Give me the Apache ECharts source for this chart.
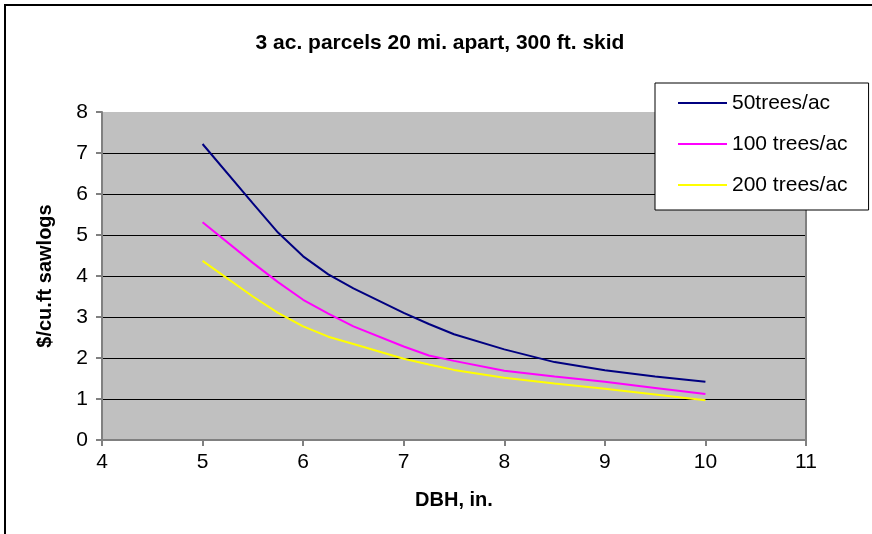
<!DOCTYPE html>
<html>
<head>
<meta charset="utf-8">
<script src="https://cdn.jsdelivr.net/npm/echarts@6/dist/echarts.min.js"></script>
<style>
  html, body { margin: 0; padding: 0; background: #fff; }
  #chart { width: 872px; height: 534px; }
</style>
</head>
<body>
<div id="chart"></div>
<script>
// region data
const dbh = [5, 5.5, 5.75, 6, 6.25, 6.5, 7, 7.25, 7.5, 8, 8.5, 9, 9.5, 10]
const trees50 = [7.22, 5.77, 5.06, 4.48, 4.04, 3.7, 3.1, 2.83, 2.58, 2.21, 1.9, 1.7, 1.55, 1.42]
const trees100 = [5.31, 4.32, 3.85, 3.42, 3.08, 2.77, 2.28, 2.06, 1.93, 1.69, 1.55, 1.42, 1.27, 1.12]
const trees200 = [4.37, 3.5, 3.1, 2.77, 2.52, 2.34, 1.98, 1.84, 1.71, 1.52, 1.38, 1.25, 1.11, 0.97]
const seriesNames = ['50trees/ac', '100 trees/ac', '200 trees/ac']
const seriesColors = ['#000080', '#ff00ff', '#ffff00']
// endregion

const font = 'Liberation Sans, Arial, sans-serif'
const toPairs = (values) => values.map((v, i) => [dbh[i], v])

const chart = echarts.init(document.getElementById('chart'), null, { renderer: 'canvas' })

const makeSeries = (name, values, color) => ({
  name: name,
  type: 'line',
  data: toPairs(values),
  symbol: 'none',
  showSymbol: false,
  smooth: false,
  lineStyle: { color: color, width: 2 },
  itemStyle: { color: color },
  animation: false,
})

chart.setOption({
  animation: false,
  textStyle: { fontFamily: font },
  title: {
    text: '3 ac. parcels 20 mi. apart, 300 ft. skid',
    left: 435,
    top: 28,
    textAlign: 'center',
    textStyle: { fontFamily: font, fontSize: 21, fontWeight: 'bold', color: '#000' },
  },
  legend: {
    orient: 'vertical',
    left: 655,
    top: 83,
    data: seriesNames,
    icon: 'rect',
    itemWidth: 49,
    itemHeight: 2,
    itemGap: 17,
    padding: [8, 21, 13, 23],
    backgroundColor: '#fff',
    borderColor: '#000',
    borderWidth: 1,
    borderRadius: 0,
    textStyle: { fontFamily: font, fontSize: 21, color: '#000', lineHeight: 24 },
  },
  grid: {
    left: 102,
    top: 112,
    width: 704,
    height: 328,
    show: true,
    backgroundColor: '#c0c0c0',
    borderWidth: 0,
  },
  xAxis: {
    type: 'value',
    min: 4,
    max: 11,
    interval: 1,
    name: 'DBH, in.',
    nameLocation: 'middle',
    nameGap: 50,
    nameTextStyle: { fontFamily: font, fontSize: 20, fontWeight: 'bold', color: '#000' },
    axisLine: { show: true, lineStyle: { color: '#808080', width: 2 } },
    axisTick: { show: true, inside: false, length: 6, lineStyle: { color: '#808080', width: 2 } },
    axisLabel: { fontFamily: font, fontSize: 21, color: '#000', margin: 12 },
    splitLine: { show: false },
  },
  yAxis: [
    {
      type: 'value',
      min: 0,
      max: 8,
      interval: 1,
      name: '$/cu.ft sawlogs',
      nameLocation: 'middle',
      nameGap: 47,
      nameTextStyle: { fontFamily: font, fontSize: 20, fontWeight: 'bold', color: '#000' },
      axisLine: { show: true, lineStyle: { color: '#808080', width: 2 } },
      axisTick: { show: true, inside: false, length: 6, lineStyle: { color: '#808080', width: 2 } },
      axisLabel: { fontFamily: font, fontSize: 21, color: '#000', margin: 14 },
      splitLine: { show: true, showMaxLine: false, lineStyle: { color: '#000', width: 1 } },
    },
    {
      type: 'value',
      min: 0,
      max: 8,
      interval: 1,
      position: 'right',
      axisLine: { show: true, lineStyle: { color: '#808080', width: 2 } },
      axisTick: { show: false },
      axisLabel: { show: false },
      splitLine: { show: false },
    },
  ],
  series: [
    makeSeries(seriesNames[0], trees50, seriesColors[0]),
    makeSeries(seriesNames[1], trees100, seriesColors[1]),
    makeSeries(seriesNames[2], trees200, seriesColors[2]),
  ],
  graphic: [
    {
      type: 'polyline',
      shape: { points: [[5, 534], [5, 5], [872, 5]] },
      style: { stroke: '#000', lineWidth: 2, fill: null },
      silent: true,
    },
  ],
})
</script>
</body>
</html>
